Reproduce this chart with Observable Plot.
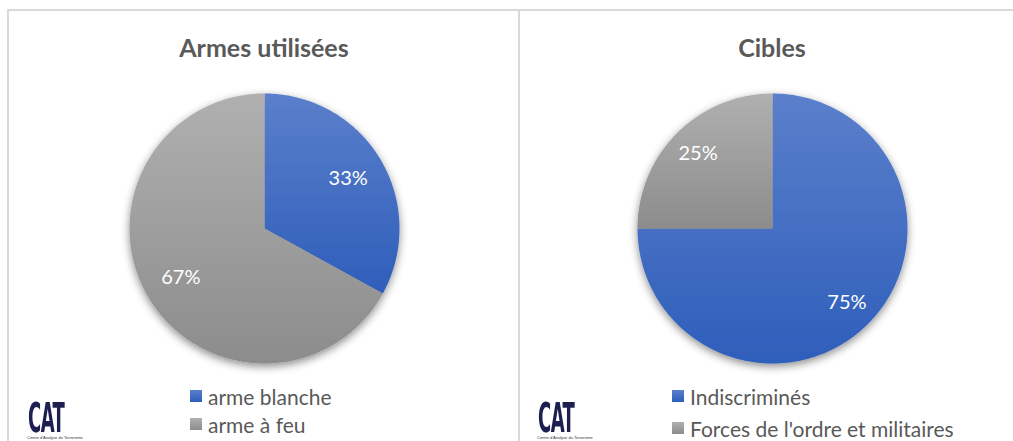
<!DOCTYPE html>
<html>
<head>
<meta charset="utf-8">
<script src="https://cdn.jsdelivr.net/npm/d3@7"></script>
<script src="https://cdn.jsdelivr.net/npm/@observablehq/plot@0.6"></script>
<style>
  html, body { margin: 0; padding: 0; background: #fff; }
  #page { position: relative; width: 1013px; height: 441px; overflow: hidden; font-family: Lato, "Open Sans", sans-serif; }
  .line { position: absolute; background: #d9d9d9; }
  .title { position: absolute; width: 300px; text-align: center; font-weight: 700; font-size: 25px; line-height: 30px; color: #595959; }
  .chart { position: absolute; }
  .legend { position: absolute; font-size: 21px; color: #595959; }
  .legend .item { display: flex; align-items: center; white-space: nowrap; }
  .legend .sw { width: 12px; height: 12px; margin-right: 6px; flex: none; }
  .logo { position: absolute; color: #1c1f4f; font-family: "Liberation Sans Narrow", "DejaVu Sans Condensed", sans-serif; font-weight: 700; font-size: 40px; line-height: 30px; height: 30px; letter-spacing: -1px; transform: scaleX(0.5); transform-origin: left; white-space: nowrap; }
  .logosmall { position: absolute; font-family: "Liberation Sans Narrow", sans-serif; font-size: 4px; line-height: 5px; color: #333; white-space: nowrap; }
</style>
</head>
<body>
<svg width="0" height="0" style="position:absolute">
  <defs>
    <linearGradient id="gBlue" x1="0" y1="0" x2="0" y2="1">
      <stop offset="0" stop-color="#5b7fcb"/>
      <stop offset="1" stop-color="#2e5eba"/>
    </linearGradient>
    <linearGradient id="gGray" x1="0" y1="0" x2="0" y2="1">
      <stop offset="0" stop-color="#b0b0b0"/>
      <stop offset="1" stop-color="#8c8c8c"/>
    </linearGradient>
    <filter id="shadow" x="-20%" y="-20%" width="140%" height="140%">
      <feDropShadow dx="0" dy="3" stdDeviation="4" flood-color="#000" flood-opacity="0.45"/>
    </filter>
  </defs>
</svg>
<div id="page">
  <div class="line" style="left:7px; top:9px; width:1006px; height:2px;"></div>
  <div class="line" style="left:7px; top:9px; width:2px; height:432px;"></div>
  <div class="line" style="left:518px; top:9px; width:2px; height:432px;"></div>
</div>
<script>
// ---- data ----
const armesTitle = "Armes utilisées";
const armesCats = ["arme blanche", "arme à feu"];
const armesVals = [33, 67];

const ciblesTitle = "Cibles";
const ciblesCats = ["Indiscriminés", "Forces de l'ordre et militaires"];
const ciblesVals = [75, 25];

const logoText = "CAT";
const logoSub = "Centre d'Analyse du Terrorisme";

const sliceFills = ["url(#gBlue)", "url(#gGray)"];

const page = document.getElementById("page");

function pieChart(cats, vals, labelK) {
  const total = d3.sum(vals);
  const arcs = d3.pie().sort(null).value(d => d)(vals).map((a, i) => ({...a, cat: cats[i]}));
  const pts = arcs.flatMap(a => {
    const n = 200;
    const arr = [{c: a.cat, x: 0, y: 0}];
    for (let j = 0; j <= n; j++) {
      const t = a.startAngle + (a.endAngle - a.startAngle) * j / n;
      arr.push({c: a.cat, x: Math.sin(t), y: Math.cos(t)});
    }
    return arr;
  });
  const mid = a => (a.startAngle + a.endAngle) / 2;
  const svg = Plot.plot({
    width: 300, height: 300, margin: 15,
    x: {domain: [-1, 1], axis: null},
    y: {domain: [-1, 1], axis: null},
    color: {domain: cats, range: sliceFills},
    style: {background: "transparent", overflow: "visible"},
    marks: [
      Plot.line(pts, {x: "x", y: "y", z: "c", fill: "c", stroke: "none", curve: "linear"}),
      Plot.text(arcs, {
        x: a => Math.sin(mid(a)) * labelK,
        y: a => Math.cos(mid(a)) * labelK,
        text: a => Math.round(a.value / total * 100) + "%",
        fill: "white", fontSize: 20, fontFamily: "Lato, 'Open Sans', sans-serif"
      })
    ]
  });
  const g = svg.querySelector("g[aria-label='line']");
  if (g) g.setAttribute("filter", "url(#shadow)");
  return svg;
}

function addPanel(title, cats, vals, cx, labelK, legendLeft, rowH, logoLeft) {
  const t = document.createElement("div");
  t.className = "title";
  t.textContent = title;
  t.style.left = (cx - 150) + "px";
  t.style.top = "32px";
  page.appendChild(t);

  const c = document.createElement("div");
  c.className = "chart";
  c.style.left = (cx - 150) + "px";
  c.style.top = "78px";
  c.appendChild(pieChart(cats, vals, labelK));
  page.appendChild(c);

  const lg = document.createElement("div");
  lg.className = "legend";
  lg.style.left = legendLeft + "px";
  lg.style.top = (396 - rowH / 2) + "px";
  cats.forEach((cat, i) => {
    const it = document.createElement("div");
    it.className = "item";
    it.style.height = rowH + "px";
    const sw = document.createElement("div");
    sw.className = "sw";
    sw.style.background = i === 0
      ? "linear-gradient(#5b7fcb, #2e5eba)"
      : "linear-gradient(#b0b0b0, #8c8c8c)";
    const tx = document.createElement("span");
    tx.textContent = cat;
    it.appendChild(sw); it.appendChild(tx);
    lg.appendChild(it);
  });
  page.appendChild(lg);

  const logo = document.createElement("div");
  logo.className = "logo";
  logo.style.left = logoLeft + "px";
  logo.style.top = "403px";
  logo.textContent = logoText;
  page.appendChild(logo);

  const sub = document.createElement("div");
  sub.className = "logosmall";
  sub.style.left = (logoLeft - 1) + "px";
  sub.style.top = "435px";
  sub.textContent = logoSub;
  page.appendChild(sub);
}

addPanel(armesTitle, armesCats, armesVals, 264, 0.72, 190, 28, 28);
addPanel(ciblesTitle, ciblesCats, ciblesVals, 772, 0.78, 672, 32, 538);
</script>
</body>
</html>
